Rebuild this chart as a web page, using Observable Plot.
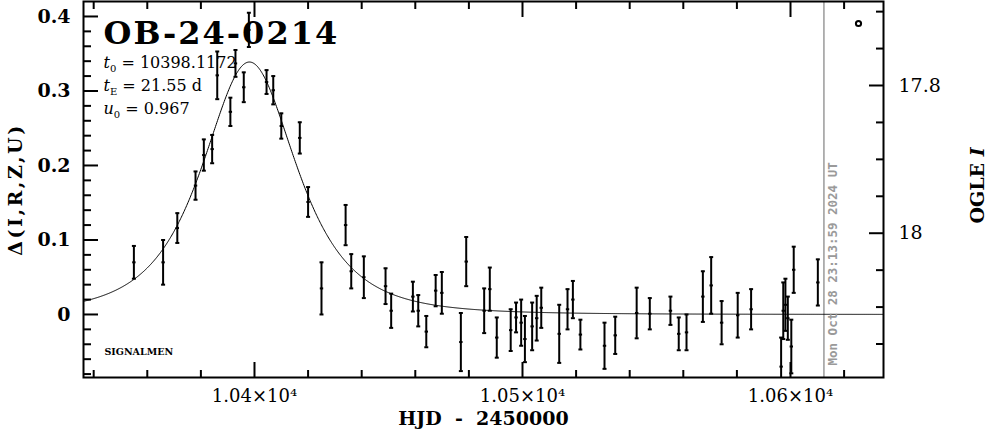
<!DOCTYPE html>
<html><head><meta charset="utf-8">
<script src="https://cdn.jsdelivr.net/npm/d3@7"></script>
<script src="https://cdn.jsdelivr.net/npm/@observablehq/plot@0.6"></script>
<style>
html,body{margin:0;padding:0;background:#fff;}
#chart svg{display:block;}
</style>
</head><body><div id="chart"></div>
<script>
// ---- text ----
const title = "OB-24-0214";
const paramLines = ["t_0 = 10398.1172", "t_E = 21.55 d", "u_0 = 0.967"];
const xLabel = "HJD  -  2450000";
const yLabel = "Δ(I,R,Z,U)";
const rightLabel = "OGLE I";
const footLabel = "SIGNALMEN";
const dateLabel = "Mon Oct 28 23:13:59 2024 UT";

// ---- model parameters (as printed on the chart) ----
const t0 = 10398.1172, tE = 21.55, u0 = 0.967;

// ---- photometry: HJD-2450000, Δmag, error ----
const hjd = [10355.0, 10365.9, 10371.2, 10378.0, 10381.1, 10384.2, 10386.1, 10391.0, 10392.9, 10396.0,
  10397.9, 10404.5, 10407.0, 10410.0, 10416.9, 10420.0, 10425.0, 10434.0, 10436.1, 10440.8,
  10448.9, 10451.0, 10459.1, 10461.1, 10464.1, 10467.6, 10469.9, 10477.0, 10479.0, 10485.7,
  10487.8, 10490.4, 10495.6, 10497.6, 10499.5, 10500.9, 10503.6, 10505.3, 10507.0, 10513.7,
  10516.8, 10518.8, 10521.6, 10530.6, 10534.6, 10542.6, 10547.5,
  10555.2, 10558.3, 10561.2, 10567.3, 10570.4, 10574.3, 10580.3, 10585.3, 10596.5, 10597.3,
  10598.1, 10599.0, 10600.3, 10601.2, 10610.2];
const delta = [0.070, 0.070, 0.116, 0.173, 0.214, 0.222, 0.321, 0.272, 0.337, 0.305,
  0.382, 0.312, 0.301, 0.253, 0.237, 0.151, 0.035, 0.120, 0.058, 0.050,
  0.038, 0.005, 0.024, 0.005, -0.023, 0.032, 0.029, -0.037, 0.071, 0.005,
  0.034, -0.031, -0.021, -0.004, -0.011, -0.033, -0.016, -0.005, 0.009, -0.026,
  0.007, 0.020, -0.027, -0.042, -0.028, 0.002, 0.001,
  0.005, -0.026, -0.024, 0.024, 0.039, -0.011, -0.001, 0.007, -0.070, 0.005,
  0.013, -0.005, -0.043, 0.060, 0.043];
const err = [0.022, 0.030, 0.020, 0.019, 0.021, 0.019, 0.032, 0.019, 0.018, 0.020,
  0.023, 0.016, 0.019, 0.017, 0.021, 0.020, 0.035, 0.027, 0.023, 0.028,
  0.024, 0.023, 0.020, 0.021, 0.021, 0.021, 0.028, 0.039, 0.033, 0.030,
  0.029, 0.027, 0.028, 0.020, 0.031, 0.031, 0.032, 0.030, 0.027, 0.039,
  0.027, 0.025, 0.020, 0.031, 0.025, 0.034, 0.021,
  0.019, 0.022, 0.024, 0.034, 0.038, 0.029, 0.030, 0.027, 0.039, 0.038,
  0.035, 0.029, 0.036, 0.031, 0.031];

// ---- axes ----
const xDomain = [10336.2, 10634.7];
const yDomain = [-0.0846, 0.4201];
const xMajor = [10400, 10500, 10600];
const xMinor = [10340, 10360, 10380, 10420, 10440, 10460, 10480, 10520, 10540, 10560, 10580, 10620];
const yMajor = [0, 0.1, 0.2, 0.3, 0.4];
const yMinor = [-0.08, -0.06, -0.04, -0.02, 0.02, 0.04, 0.06, 0.08, 0.12, 0.14, 0.16, 0.18,
  0.22, 0.24, 0.26, 0.28, 0.32, 0.34, 0.36, 0.38];
const magMajor = [17.8, 18.0];
const magMinor = [17.7, 17.75, 17.85, 17.9, 17.95, 18.05, 18.1, 18.15];
const magBase = 18.110, magPerDelta = 1.0086;   // OGLE I  <->  Δ
const dateLine = 10612.47;

const toDelta = m => (magBase - m) / magPerDelta;
const toMag = d => magBase - d * magPerDelta;

const obs = hjd.map((t, i) => ({t, d: delta[i], e: err[i]}));

// Paczynski model from the printed t0, tE, u0
const model = d3.range(xDomain[0], xDomain[1] + 0.25, 0.25).map(t => {
  const tau = (t - t0) / tE;
  const u = Math.sqrt(u0 * u0 + tau * tau);
  const A = (u * u + 2) / (u * Math.sqrt(u * u + 4));
  return {t, d: 2.5 * Math.log10(A)};
});

const hline = {draw(ctx, size) { const r = Math.sqrt(size / Math.PI); ctx.moveTo(-r, 0); ctx.lineTo(r, 0); }};
const serif = "DejaVu Serif";

const plot = Plot.plot({
  width: 986, height: 434,
  marginLeft: 83, marginRight: 103, marginTop: 1, marginBottom: 57,
  style: {fontFamily: serif, fontSize: "18px", background: "white", color: "black", overflow: "visible"},
  x: {domain: xDomain},
  y: {domain: yDomain},
  marks: [
    Plot.ruleX([dateLine], {stroke: "#9a9a9a", strokeWidth: 1.5}),
    Plot.line(model, {x: "t", y: "d", stroke: "black", strokeWidth: 1, clip: true}),
    Plot.ruleX(obs, {x: "t", y1: d => d.d - d.e, y2: d => d.d + d.e, stroke: "black", strokeWidth: 2, clip: true}),
    Plot.dot(obs, {x: "t", y: d => d.d + d.e, symbol: hline, r: 2, stroke: "black", strokeWidth: 2, clip: true}),
    Plot.dot(obs, {x: "t", y: d => d.d - d.e, symbol: hline, r: 2, stroke: "black", strokeWidth: 2, clip: true}),
    Plot.dot(obs, {x: "t", y: "d", symbol: hline, r: 1.7, stroke: "black", strokeWidth: 2, clip: true}),
    // ticks (inward)
    Plot.axisX(xMinor, {anchor: "bottom", tickSize: -7, strokeWidth: 2, fill: "none", label: null}),
    Plot.axisX(xMajor, {anchor: "bottom", tickSize: -15, strokeWidth: 2, fill: "none", label: null}),
    Plot.axisX(xMinor, {anchor: "top", tickSize: -7, strokeWidth: 2, fill: "none", label: null}),
    Plot.axisX(xMajor, {anchor: "top", tickSize: -15, strokeWidth: 2, fill: "none", label: null}),
    Plot.axisY(yMinor, {anchor: "left", tickSize: -8, strokeWidth: 2, fill: "none", label: null}),
    Plot.axisY(yMajor, {anchor: "left", tickSize: -15, strokeWidth: 2, fill: "none", label: null}),
    Plot.axisY(magMinor.map(toDelta), {anchor: "right", tickSize: -8, strokeWidth: 2, fill: "none", label: null}),
    Plot.axisY(magMajor.map(toDelta), {anchor: "right", tickSize: -15, strokeWidth: 2, fill: "none", label: null}),
    // tick labels
    Plot.axisX(xMajor, {anchor: "bottom", tickSize: 0, tickPadding: 12, label: null,
      tickFormat: d => `${(d / 1e4).toFixed(2)}×10⁴`, fontSize: 18, fontFamily: serif}),
    Plot.axisY(yMajor, {anchor: "left", tickSize: 0, tickPadding: 13, label: null,
      tickFormat: d => d === 0 ? "0" : d.toFixed(1), fontSize: 19, fontWeight: "bold", fontFamily: serif}),
    Plot.axisY(magMajor.map(toDelta), {anchor: "right", tickSize: 0, tickPadding: 15, label: null,
      tickFormat: d => String(+toMag(d).toFixed(2)), fontSize: 19, fontFamily: serif}),
    Plot.frame({stroke: "black", strokeWidth: 2}),
    // labels
    Plot.text([xLabel], {frameAnchor: "bottom", dy: 47, fontSize: 19, fontFamily: serif, fontWeight: "bold"}),
    Plot.text([yLabel], {frameAnchor: "left", dx: -68, rotate: -90, textAnchor: "middle",
      fontSize: 19, fontFamily: serif, fontWeight: "bold"}),
    Plot.text([rightLabel], {frameAnchor: "right", dx: 94, dy: -4, rotate: -90, textAnchor: "middle",
      fontSize: 19, fontFamily: serif, fontWeight: "bold"}),
    Plot.text([title], {frameAnchor: "top-left", dx: 20, dy: 20, textAnchor: "start", lineAnchor: "top",
      fontSize: 32, fontWeight: "bold", fontFamily: serif}),
    ...paramLines.map((s, i) => Plot.text([s], {frameAnchor: "top-left", dx: 20, dy: 61 + 23 * i,
      textAnchor: "start", lineAnchor: "middle", fontSize: 16, fontFamily: serif})),
    Plot.text([footLabel], {frameAnchor: "bottom-left", dx: 21, dy: -23, textAnchor: "start",
      fontSize: 9.5, fontWeight: "bold", fontFamily: serif}),
    Plot.text([dateLabel], {x: () => dateLine, frameAnchor: "bottom", dy: -12, dx: 13, rotate: -90,
      textAnchor: "start", lineAnchor: "bottom", fill: "#9a9a9a", fontSize: 12.5, fontWeight: "bold",
      fontFamily: "DejaVu Sans Mono"}),
    Plot.dot([title], {frameAnchor: "top-right", dx: -25, dy: 22, r: 2.6, stroke: "black", strokeWidth: 2, fill: "none"})
  ]
});

// typographic touches: italic symbols with subscripts, letter spacing
const svg = d3.select(plot);
svg.selectAll("text").each(function() {
  const el = d3.select(this);
  const s = this.textContent;
  const m = s.match(/^(\w)_(\w)(.*)$/);
  if (m) {
    el.text(null);
    el.append("tspan").attr("font-style", "italic").text(m[1]);
    el.append("tspan").attr("font-size", "10px").attr("dy", "4").text(m[2]);
    el.append("tspan").attr("dy", "-4").text(m[3]);
  } else if (s === rightLabel) {
    el.text(null);
    el.append("tspan").text("OGLE ");
    el.append("tspan").attr("font-style", "italic").text("I");
  } else if (s === title) {
    el.attr("letter-spacing", "2px");
  } else if (s === yLabel) {
    el.attr("letter-spacing", "2.5px");
  }
});
document.getElementById("chart").appendChild(plot);
</script>
</body></html>
